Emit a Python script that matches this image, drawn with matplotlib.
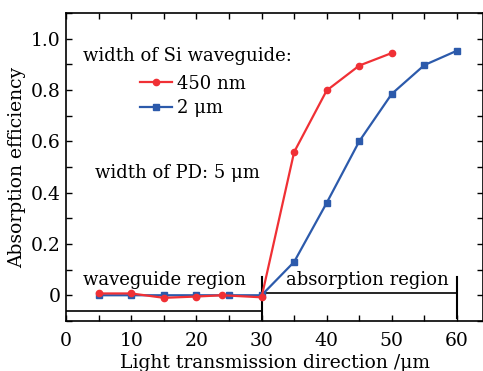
import matplotlib
matplotlib.use('Agg')

import matplotlib.pyplot as plt
from matplotlib.ticker import MultipleLocator, FuncFormatter

# 450 nm waveguide
x_450 = [5, 10, 15, 20, 24, 30, 35, 40, 45, 50]
y_450 = [0.007, 0.007, -0.01, -0.005, 0.0, -0.008, 0.558, 0.798, 0.895, 0.944]

# 2 um waveguide
x_2um = [5, 10, 15, 20, 25, 30, 35, 40, 45, 50, 55, 60]
y_2um = [0.0, 0.0, 0.0, 0.0, 0.0, 0.0, 0.13, 0.36, 0.60, 0.785, 0.897, 0.953]

plt.rcParams['font.family'] = ['DejaVu Serif']
plt.rcParams['mathtext.fontset'] = 'dejavuserif'


def main():
    fig = plt.figure(figsize=(4.83, 3.71), dpi=100)
    ax = fig.add_axes([0.137, 0.135, 0.863, 0.83])

    red = '#f03035'
    blue = '#2c5aab'
    ax.plot(x_2um, y_2um, color=blue, marker='s', markersize=4.5, lw=1.6, label='2 μm', zorder=3)
    ax.plot(x_450, y_450, color=red, marker='o', markersize=4.5, lw=1.6, label='450 nm', zorder=4)

    # region markers
    ax.plot([0, 30], [-0.062, -0.062], color='black', lw=1.2)
    ax.plot([30, 30], [0.073, -0.1], color='black', lw=1.5)
    ax.plot([30, 60], [0.007, 0.007], color='black', lw=1.2)
    ax.plot([60, 60], [0.073, -0.09], color='black', lw=1.5)

    fs = 13
    ax.text(2.6, 0.058, 'waveguide region', fontsize=fs, va='center', ha='left')
    ax.text(46.2, 0.058, 'absorption region', fontsize=fs, va='center', ha='center')
    ax.text(2.6, 0.934, 'width of Si waveguide:', fontsize=fs, va='center', ha='left')
    ax.text(4.45, 0.475, 'width of PD: 5 μm', fontsize=fs, va='center', ha='left')

    handles, labels = ax.get_legend_handles_labels()
    ax.legend(handles[::-1], labels[::-1], loc='upper left', bbox_to_anchor=(0.177, 0.80),
              frameon=False, fontsize=fs, handlelength=1.8, handletextpad=0.25,
              labelspacing=0.35, borderpad=0, borderaxespad=0)

    ax.set_xlim(0, 64)
    ax.set_ylim(-0.1, 1.1)
    ax.xaxis.set_major_locator(MultipleLocator(10))
    ax.xaxis.set_minor_locator(MultipleLocator(5))
    ax.yaxis.set_major_locator(MultipleLocator(0.2))
    ax.yaxis.set_minor_locator(MultipleLocator(0.1))
    ax.yaxis.set_major_formatter(FuncFormatter(lambda v, p: '0' if abs(v) < 1e-9 else '%.1f' % v))
    ax.tick_params(which='both', direction='in', top=True, right=True, labelsize=13.5)
    ax.tick_params(which='major', length=4, width=1)
    ax.tick_params(which='minor', length=4, width=1)
    ax.tick_params(axis='x', which='major', pad=8)
    ax.tick_params(axis='y', which='major', pad=4)
    for s in ax.spines.values():
        s.set_linewidth(1.2)

    ax.set_xlabel('Light transmission direction /μm', fontsize=13.5, labelpad=3)
    ax.set_ylabel('Absorption efficiency', fontsize=13.5, labelpad=3)

    fig.savefig('out.png', dpi=100)
    plt.close()


if __name__ == "__main__":
    main()
